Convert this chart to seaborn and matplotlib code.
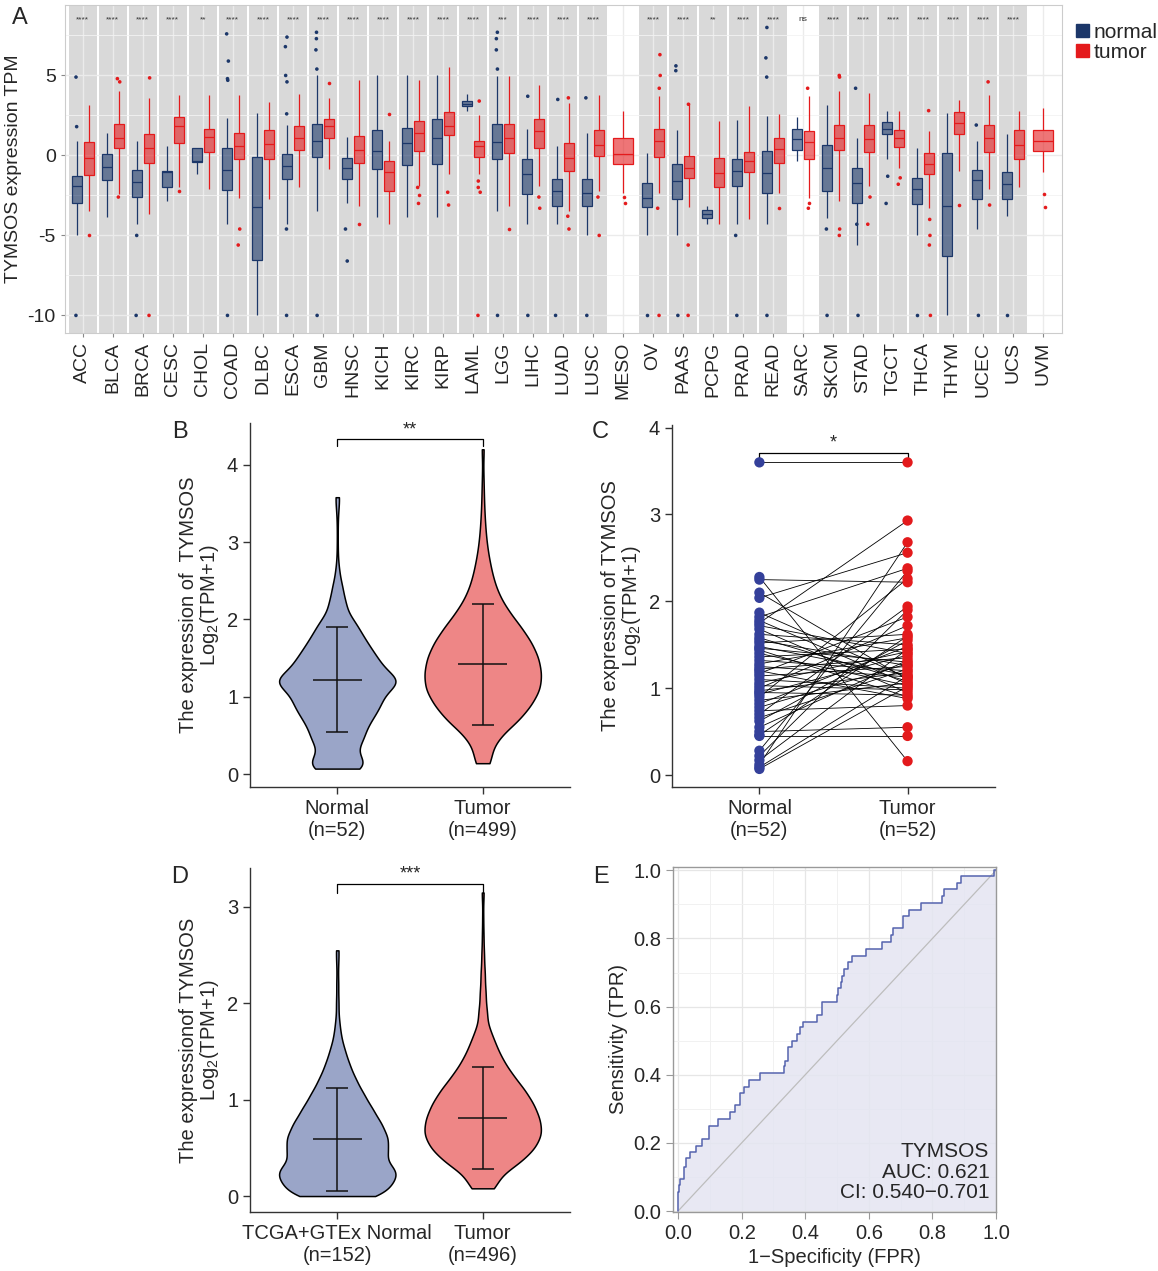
import numpy as np
import pandas as pd
import matplotlib
matplotlib.use('Agg')
import matplotlib.pyplot as plt
import seaborn as sns
from matplotlib.patches import Patch

# ---------------- data: panel A (pan-cancer boxplots) ----------------
cancers = ["ACC", "BLCA", "BRCA", "CESC", "CHOL", "COAD", "DLBC", "ESCA", "GBM", "HNSC", "KICH",
           "KIRC", "KIRP", "LAML", "LGG", "LIHC", "LUAD", "LUSC", "MESO", "OV", "PAAS", "PCPG",
           "PRAD", "READ", "SARC", "SKCM", "STAD", "TGCT", "THCA", "THYM", "UCEC", "UCS", "UVM"]
sig = ["****", "****", "****", "****", "**", "****", "****", "****", "****", "****", "****",
       "****", "****", "****", "***", "****", "****", "****", "", "****", "****", "**",
       "****", "****", "ns", "****", "****", "****", "****", "****", "****", "****", ""]
nan = np.nan
normal_lo = [-5.0, -3.84, -4.3, -2.84, -1.18, -4.3, -10, -4.3, -3.46, -2.95, -3.84, -3.84, -3.84, 2.76, -3.46, -4.3,
             -4.3, -5.0, nan, -5.0, -5.0, -4.3, -4.3, -4.3, -0.35, -3.88, -5.58, -0.25, -5.0, -10, -4.6, -3.78, nan]
normal_q1 = [-2.95, -1.56, -2.57, -2.0, -0.41, -2.18, -6.51, -1.49, -0.1, -1.49, -0.87, -0.6, -0.56, 3.07, -0.25, -2.43,
             -3.15, -3.19, nan, -3.22, -2.74, -3.94, -1.91, -2.32, 0.31, -2.22, -2.95, 1.31, -3.05, -6.27, -2.74, -2.74, nan]
normal_med = [-1.91, -0.73, -1.64, -1.04, -0.35, -0.89, -3.2, -0.66, 0.93, -0.81, 0.27, 0.79, 1.06, 3.2, 0.85, -1.14,
              -2.22, -2.32, nan, -2.63, -1.6, -3.67, -0.98, -1.08, 1.04, -0.77, -1.74, 1.68, -2.12, -3.15, -1.56, -1.76, nan]
normal_q3 = [-1.29, 0.1, -0.91, -0.98, 0.44, 0.48, -0.1, 0.06, 1.97, -0.15, 1.58, 1.72, 2.3, 3.38, 1.97, -0.25,
             -1.45, -1.45, nan, -1.7, -0.52, -3.42, -0.25, 0.27, 1.68, 0.68, -0.77, 2.07, -1.39, 0.17, -0.93, -1.02, nan]
normal_hi = [0.93, 1.41, 0.89, 0.62, 0.44, 2.34, 2.66, 1.93, 5.0, 1.14, 5.0, 5.0, 5.0, 3.84, 4.94, 1.68,
             0.58, 1.41, nan, 0.17, 1.62, -3.15, 2.24, 2.45, 2.39, 3.17, 1.1, 2.76, 0.48, 2.66, 0.89, 1.31, nan]
tumor_lo = [-3.46, -2.43, -3.67, -2.0, -2.1, -2.63, -2.74, -2.0, -0.87, -3.15, -4.3, -1.9, -1.18, -1.18, -3.15, -1.9,
            -3.46, -2.22, -2.32, -2.32, -3.22, -4.3, -3.98, -2.32, -2.63, -2.84, -1.91, -0.77, -3.26, -0.98, -2.12, -2.0, -1.02]
tumor_q1 = [-1.24, 0.44, -0.46, 0.77, 0.21, -0.21, -0.25, 0.31, 1.1, -0.5, -2.22, 0.27, 1.27, -0.1, 0.17, 0.44,
            -0.98, -0.04, -0.56, -0.08, -1.39, -1.97, -1.02, -0.46, -0.25, 0.37, 0.21, 0.54, -1.18, 1.31, 0.23, -0.25, 0.27]
tumor_med = [-0.15, 1.1, 0.44, 1.83, 1.14, 0.58, 0.73, 1.06, 1.83, 0.37, -1.02, 1.41, 1.83, 0.58, 1.1, 1.51,
             -0.15, 0.68, 0.12, 0.89, -0.77, -1.08, -0.35, 0.41, 0.83, 1.1, 1.0, 1.1, -0.56, 2.03, 1.1, 0.68, 0.89]
tumor_q3 = [0.83, 1.99, 1.31, 2.41, 1.68, 1.41, 1.56, 1.87, 2.3, 1.24, -0.35, 2.14, 2.72, 0.93, 1.97, 2.28,
            0.79, 1.56, 1.1, 1.66, -0.04, -0.15, 0.21, 1.1, 1.51, 1.93, 1.93, 1.58, 0.17, 2.7, 1.89, 1.58, 1.62]
tumor_hi = [3.13, 4.0, 3.6, 3.8, 3.8, 3.8, 3.34, 3.84, 3.6, 4.69, 0.93, 4.73, 5.5, 2.51, 4.94, 4.42,
            3.28, 3.8, 2.76, 3.69, 3.28, 2.14, 3.07, 2.59, 3.69, 4.0, 3.9, 2.76, 1.51, 3.49, 3.8, 2.76, 2.97]
normal_out = [[4.9, 1.8, -10], [], [-5.0, -10], [], [], [7.6, 5.9, 4.8, 4.7, -10], [], [7.4, 6.8, 5.0, 4.6, 2.6, -4.6, -10],
              [7.7, 7.3, 6.6, 5.4, -10], [-4.6, -6.6], [], [], [], [], [7.7, 7.3, 6.6, 5.4, -10], [3.7, -10], [3.5, -10],
              [3.6, -10], [], [-10], [5.6, 5.3, -10], [], [-5.0, -10], [8.0, 6.1, 4.9, -10], [], [-4.6, -10],
              [4.2, -4.3, -10], [-1.3, -3.0], [-10], [], [1.9, -10], [-10], []]
tumor_out = [[-5.0], [4.8, 4.6, -2.6], [4.85, -10], [-2.2], [], [-4.6, -5.6], [], [], [4.5], [-4.3], [2.6],
             [-2.0, -2.5, -3.0], [-2.3, -3.1], [3.4, -1.6, -2.0, -2.3, -10], [-4.6], [-2.6, -3.3], [3.6, -3.8, -4.6],
             [-2.6, -5.0], [-2.6, -3.0], [6.3, 5.0, 4.2, -3.3, -10], [3.2, -5.6, -10], [], [], [-3.3],
             [4.2, -3.0, -3.3], [5.0, 4.9, -4.6, -5.0], [-2.6, -4.3], [-1.4, -1.8], [2.8, -4.0, -5.0, -5.6, -10],
             [-3.1], [4.6, -3.1], [], [-2.4, -3.2]]

# ---------------- data: panels B / D (violin profiles) ----------------
b_groups = ["Normal", "Tumor"]
b_normal_y = [0.07, 0.2, 0.4, 0.55, 0.7, 0.85, 1.0, 1.15, 1.25, 1.4, 1.55, 1.7, 1.85, 2.0, 2.2, 2.4, 2.6, 2.8, 3.0, 3.2, 3.4, 3.58]
b_normal_w = [100, 90, 95, 95, 120, 148, 162, 173, 175, 160, 132, 105, 80, 60, 40, 25, 10, 3, 2, 2, 4, 10]
b_tumor_y = [0.14, 0.3, 0.5, 0.7, 0.9, 1.1, 1.3, 1.5, 1.7, 1.9, 2.1, 2.3, 2.5, 2.7, 2.9, 3.1, 3.3, 3.5, 3.7, 3.9, 4.2]
b_tumor_w = [20, 22, 52, 105, 140, 165, 168, 160, 140, 110, 75, 48, 32, 22, 14, 9, 6, 4, 3, 2, 4]
b_mean = [1.22, 1.42]
b_sd = [0.675, 0.785]
b_labels = ["Normal\n(n=52)", "Tumor\n(n=499)"]

d_normal_y = [0.0, 0.1, 0.2, 0.3, 0.45, 0.6, 0.75, 0.9, 1.05, 1.2, 1.35, 1.5, 1.65, 1.8, 2.0, 2.2, 2.4, 2.55]
d_normal_w = [110, 110, 125, 145, 160, 162, 140, 112, 85, 60, 40, 25, 12, 7, 5, 4, 3, 5]
d_tumor_y = [0.08, 0.2, 0.35, 0.5, 0.65, 0.8, 0.95, 1.1, 1.25, 1.4, 1.55, 1.7, 1.9, 2.1, 2.3, 2.5, 2.7, 2.9, 3.15]
d_tumor_w = [30, 42, 110, 152, 172, 165, 148, 122, 88, 60, 40, 25, 16, 11, 8, 5, 3, 2, 4]
d_mean = [0.59, 0.81]
d_sd = [0.535, 0.525]
d_labels = ["TCGA+GTEx Normal\n(n=152)", "Tumor\n(n=496)"]

# ---------------- data: panel C (paired samples) ----------------
c_normal = [3.60, 2.28, 2.25, 2.10, 2.04, 1.87, 1.82, 1.78, 1.72, 1.68, 1.62, 1.58, 1.52, 1.48, 1.46, 1.44, 1.40,
            1.36, 1.32, 1.28, 1.25, 1.22, 1.20, 1.17, 1.14, 1.10, 1.06, 1.03, 1.00, 0.97, 0.93, 0.90, 0.86, 0.82,
            0.78, 0.74, 0.70, 0.66, 0.62, 0.55, 0.50, 0.46, 0.45, 0.28, 0.22, 0.17, 0.12, 0.09, 0.07, 1.75, 1.55, 0.95]
c_tumor = [3.60, 0.16, 2.22, 1.10, 2.56, 1.12, 2.38, 1.05, 1.40, 0.95, 1.50, 1.08, 1.62, 1.15, 1.30, 0.90, 1.03,
           1.45, 1.20, 1.58, 1.13, 1.35, 0.88, 1.82, 1.25, 1.00, 1.42, 0.98, 1.72, 1.18, 1.38, 2.26, 1.06, 1.48,
           1.28, 0.80, 1.94, 1.22, 1.55, 1.32, 0.55, 1.60, 0.45, 2.35, 1.90, 1.45, 2.68, 1.14, 1.02, 2.93, 1.26, 0.92]
c_labels = ["Normal\n(n=52)", "Tumor\n(n=52)"]

# ---------------- data: panel E (ROC) ----------------
fpr = [0, 0, 0.003, 0.006, 0.02, 0.025, 0.037, 0.056, 0.074, 0.098, 0.124, 0.163, 0.18, 0.194, 0.207, 0.222,
       0.259, 0.332, 0.337, 0.345, 0.359, 0.374, 0.385, 0.394, 0.437, 0.452, 0.499, 0.504, 0.512, 0.515, 0.521,
       0.536, 0.548, 0.59, 0.64, 0.671, 0.677, 0.706, 0.725, 0.763, 0.829, 0.836, 0.878, 0.89, 0.994, 1.0]
tpr = [0, 0.057, 0.075, 0.095, 0.13, 0.155, 0.173, 0.192, 0.212, 0.25, 0.27, 0.29, 0.31, 0.345, 0.365, 0.385,
       0.405, 0.425, 0.44, 0.48, 0.50, 0.52, 0.54, 0.556, 0.576, 0.615, 0.635, 0.655, 0.672, 0.69, 0.71,
       0.73, 0.75, 0.77, 0.79, 0.81, 0.83, 0.865, 0.885, 0.905, 0.924, 0.944, 0.963, 0.982, 1.0, 1.0]

# ---------------- style ----------------
sns.set_style('white')
plt.rcParams['font.family'] = ['Liberation Sans', 'DejaVu Sans']
plt.rcParams['axes.unicode_minus'] = False
plt.rcParams['mathtext.fontset'] = 'custom'
plt.rcParams['mathtext.rm'] = 'Liberation Sans'
plt.rcParams['mathtext.it'] = 'Liberation Sans:italic'

navy = '#1C3769'
red = '#E41A1C'
vio_normal = '#9AA5C8'
vio_tumor = '#EE8686'
pt_normal = '#34409A'
pt_tumor = '#E31A1C'

fig = plt.figure(figsize=(11.58, 12.71), dpi=100)

# ================= Panel A =================
axA = fig.add_axes([0.056, 0.738, 0.861, 0.258])

rows, orows = [], []
for i, c in enumerate(cancers):
    single = bool(np.isnan(normal_lo[i]))
    for grp, st in (('normal', (normal_lo, normal_q1, normal_med, normal_q3, normal_hi)),
                    ('tumor', (tumor_lo, tumor_q1, tumor_med, tumor_q3, tumor_hi))):
        vals = [s[i] for s in st]
        if not np.isnan(vals[0]):
            rows += [(c, grp, v, single) for v in vals]
    for v in normal_out[i]:
        orows.append((c, 'normal', v, single))
    for v in tumor_out[i]:
        orows.append((c, 'tumor', v, single))
box_df = pd.DataFrame(rows, columns=['cancer', 'group', 'value', 'single'])
out_df = pd.DataFrame(orows, columns=['cancer', 'group', 'value', 'single'])

for i, s in enumerate(sig):
    if s not in ('', 'ns'):
        axA.axvspan(i - 0.47, i + 0.47, color='#D9D9D9', zorder=0, lw=0)

pal = {'normal': navy, 'tumor': red}
paired = box_df[~box_df['single']]
n_before = len(axA.patches)
for grp in ('normal', 'tumor'):
    sns.boxplot(data=paired[paired['group'] == grp], x='cancer', y='value', hue='group',
                order=cancers, hue_order=['normal', 'tumor'], palette=pal, dodge=True,
                width=0.76, gap=0.12, whis=(0, 100), showfliers=False, showcaps=False,
                linewidth=0.9, linecolor=pal[grp], saturation=1, legend=False, ax=axA)
sns.boxplot(data=box_df[box_df['single']], x='cancer', y='value', order=cancers, color=red,
            width=0.67, whis=(0, 100), showfliers=False, showcaps=False, linewidth=0.9,
            linecolor=red, saturation=1, ax=axA)
for p in axA.patches[n_before:]:
    fc = p.get_facecolor()
    p.set_facecolor((fc[0], fc[1], fc[2], 0.6))

sns.stripplot(data=out_df[~out_df['single']], x='cancer', y='value', hue='group', order=cancers,
              hue_order=['normal', 'tumor'], palette=pal, dodge=True, jitter=0.1, size=2.6,
              legend=False, ax=axA)
sns.stripplot(data=out_df[out_df['single']], x='cancer', y='value', order=cancers, color=red,
              jitter=0.1, size=2.6, ax=axA)

for i, s in enumerate(sig):
    axA.text(i, 8.5, s, ha='center', va='center', fontsize=6, color='#333333')

axA.set_xlim(-0.6, 32.63)
axA.set_ylim(-11.1, 9.4)
axA.set_yticks([-10, -5, 0, 5])
axA.set_yticks([-7.5, -2.5, 2.5, 7.5], minor=True)
axA.grid(which='major', axis='both', color='#EBEBEB', lw=1.0, zorder=0.5)
axA.grid(which='minor', axis='y', color='#F3F3F3', lw=0.6, zorder=0.5)
axA.set_axisbelow(True)
axA.set_xlabel('')
axA.set_ylabel('TYMSOS expression TPM', fontsize=14)
axA.tick_params(axis='x', labelrotation=90, labelsize=14, length=3, color='#888888', bottom=True)
axA.tick_params(axis='y', labelsize=14, length=3, color='#888888', left=True)
for sp in axA.spines.values():
    sp.set_color('#CCCCCC')
    sp.set_linewidth(0.8)
axA.legend(handles=[Patch(facecolor=navy, edgecolor=navy), Patch(facecolor=red, edgecolor=red)],
           labels=['normal', 'tumor'], loc='upper left', bbox_to_anchor=(1.0, 0.99), frameon=False,
           fontsize=15, handlelength=0.6, handleheight=0.6, handletextpad=0.2, labelspacing=0.05,
           borderaxespad=0.3)


def style_axes(ax):
    sns.despine(ax=ax)
    for sp in ('left', 'bottom'):
        ax.spines[sp].set_color('#333333')
        ax.spines[sp].set_linewidth(1.0)
    ax.tick_params(axis='both', labelsize=14.5, length=5, width=1, color='#333333',
                   left=True, bottom=True, direction='out')


# ================= Panels B / D =================
def violin_panel(ax, ny, nw, ty, tw, mean, sd, labels, ylim, yticks, ylabel, bracket, star):
    vals = np.concatenate([np.repeat(ny, nw), np.repeat(ty, tw)])
    grp = ['Normal'] * int(np.sum(nw)) + ['Tumor'] * int(np.sum(tw))
    df = pd.DataFrame({'group': grp, 'value': vals})
    sns.violinplot(data=df, x='group', y='value', hue='group', order=b_groups,
                   palette={'Normal': vio_normal, 'Tumor': vio_tumor}, cut=0, inner=None,
                   density_norm='width', width=0.8, linewidth=1.1, linecolor='black',
                   saturation=1, bw_adjust=0.85, gridsize=200, legend=False, ax=ax)
    ax.errorbar([0, 1], mean, yerr=sd, fmt='none', ecolor='#111111', elinewidth=1.1,
                capsize=8, capthick=1.1, zorder=4)
    ax.hlines(mean, np.array([0, 1]) - 0.17, np.array([0, 1]) + 0.17, color='#111111', lw=1.1, zorder=4)
    ax.plot([0, 0, 1, 1], [bracket[0], bracket[1], bracket[1], bracket[0]], color='black', lw=0.9)
    ax.text(0.5, bracket[1] + 0.01, star, ha='center', va='bottom', fontsize=13)
    ax.set_xlim(-0.6, 1.6)
    ax.set_ylim(*ylim)
    ax.set_yticks(yticks)
    ax.set_xticks([0, 1])
    ax.set_xticklabels(labels)
    ax.set_xlabel('')
    ax.set_ylabel(ylabel, fontsize=14.5, linespacing=1.0)
    style_axes(ax)


axB = fig.add_axes([0.2159, 0.3808, 0.2763, 0.2864])
violin_panel(axB, b_normal_y, b_normal_w, b_tumor_y, b_tumor_w, b_mean, b_sd, b_labels,
             (-0.168, 4.54), [0, 1, 2, 3, 4], 'The expression of  TYMSOS\nLog$_2$(TPM+1)',
             (4.24, 4.33), '**')

axD = fig.add_axes([0.2159, 0.0464, 0.2763, 0.2707])
violin_panel(axD, d_normal_y, d_normal_w, d_tumor_y, d_tumor_w, d_mean, d_sd, d_labels,
             (-0.166, 3.405), [0, 1, 2, 3], 'The expressionof TYMSOS\nLog$_2$(TPM+1)',
             (3.15, 3.24), '***')

# ================= Panel C =================
axC = fig.add_axes([0.5803, 0.3808, 0.2789, 0.2848])
n = len(c_normal)
df_c = pd.DataFrame({'pair': list(range(n)) * 2, 'pos': [0] * n + [1] * n,
                     'group': ['Normal'] * n + ['Tumor'] * n, 'value': c_normal + c_tumor})
sns.lineplot(data=df_c, x='pos', y='value', units='pair', estimator=None, color='black',
             linewidth=0.6, ax=axC)
sns.scatterplot(data=df_c, x='pos', y='value', hue='group',
                palette={'Normal': pt_normal, 'Tumor': pt_tumor}, s=55, linewidth=0,
                legend=False, zorder=3, ax=axC)
axC.plot([0, 0, 1, 1], [3.62, 3.71, 3.71, 3.62], color='black', lw=0.9)
axC.text(0.5, 3.72, '*', ha='center', va='bottom', fontsize=13)
axC.set_xlim(-0.59, 1.59)
axC.set_ylim(-0.138, 4.03)
axC.set_yticks([0, 1, 2, 3, 4])
axC.set_xticks([0, 1])
axC.set_xticklabels(c_labels)
axC.set_xlabel('')
axC.set_ylabel('The expression of TYMSOS\nLog$_2$(TPM+1)', fontsize=14.5, linespacing=1.0)
style_axes(axC)

# ================= Panel E =================
axE = fig.add_axes([0.5812, 0.0464, 0.2789, 0.2715])
axE.set_xticks(np.arange(0, 1.01, 0.2))
axE.set_xticks(np.arange(0.1, 1.0, 0.2), minor=True)
axE.set_yticks(np.arange(0, 1.01, 0.2))
axE.set_yticks(np.arange(0.1, 1.0, 0.2), minor=True)
axE.grid(which='major', color='#E6E6E6', lw=0.9)
axE.grid(which='minor', color='#F1F1F1', lw=0.7)
axE.set_axisbelow(True)
axE.fill_between(fpr, tpr, step='post', color='#E4E5F1', alpha=0.85, lw=0, zorder=1)
axE.plot([0, 1], [0, 1], color='#BDBDBD', lw=0.9, zorder=2)
sns.lineplot(x=fpr, y=tpr, estimator=None, sort=False, drawstyle='steps-post',
             color='#5563AE', linewidth=1.1, zorder=3, ax=axE)
axE.text(0.979, 0.025, 'TYMSOS\nAUC: 0.621\nCI: 0.540\u22120.701', ha='right', va='bottom',
         fontsize=15, linespacing=1.1)
axE.set_xlim(-0.016, 1.0)
axE.set_ylim(-0.003, 1.01)
axE.set_xticklabels(['0.0', '0.2', '0.4', '0.6', '0.8', '1.0'])
axE.set_yticklabels(['0.0', '0.2', '0.4', '0.6', '0.8', '1.0'])
axE.set_xlabel('1\u2212Specificity (FPR)', fontsize=14.5)
axE.set_ylabel('Sensitivity (TPR)', fontsize=14.5)
for sp in axE.spines.values():
    sp.set_color('#999999')
    sp.set_linewidth(1.0)
axE.tick_params(axis='both', which='major', labelsize=14.5, length=5, color='#999999',
                left=True, bottom=True)
axE.tick_params(which='minor', length=0)

# panel letters
for lab, x, y in (('A', 20, 18), ('B', 180, 432), ('C', 600, 432), ('D', 180, 877), ('E', 601, 877)):
    fig.text(x / 1158, 1 - y / 1271, lab, fontsize=17, ha='center', va='center')

fig.savefig('out.png', dpi=100)
